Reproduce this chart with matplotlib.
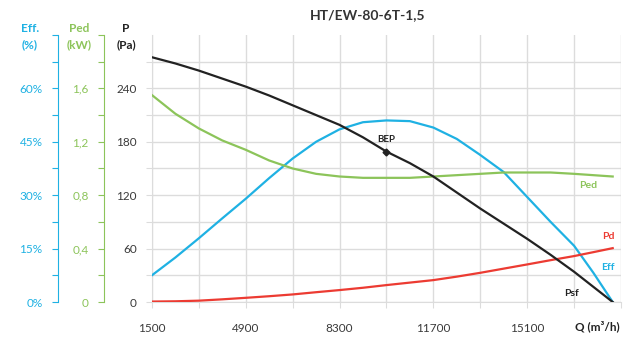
import numpy as np
import matplotlib
matplotlib.use("Agg")
import matplotlib.pyplot as plt

plt.rcParams['font.family'] = ['Lato', 'DejaVu Sans']

# flow rate (m3/h)
q = [1500, 2350, 3200, 4050, 4900, 5750, 6600, 7450, 8300, 9150, 10000,
     10850, 11700, 12550, 13400, 14250, 15100, 15950, 16800, 17500, 18200]

# static pressure Psf (Pa)
psf = [275, 268, 260, 251, 242, 232, 221, 210, 199, 185, 169,
       156, 141, 123, 105, 88, 71, 53, 34, 17, 0]
# dynamic pressure Pd (Pa)
pd_ = [0.5, 0.8, 1.5, 3, 4.7, 6.5, 8.5, 11, 13.4, 16, 19,
       21.8, 24.6, 28.5, 32.8, 37.5, 42.2, 47, 51.6, 56, 60.5]
# efficiency (%)
eff = [7.5, 12.5, 17.9, 23.5, 29.0, 34.8, 40.3, 45.0, 48.5, 50.5, 51.0,
       50.8, 49.0, 45.8, 41.3, 36.5, 29.5, 22.5, 15.8, 8.2, 0]
# absorbed power Ped (kW)
ped = [1.55, 1.41, 1.30, 1.21, 1.14, 1.06, 1.00, 0.96, 0.94, 0.93, 0.93,
       0.93, 0.94, 0.95, 0.96, 0.97, 0.97, 0.97, 0.96, 0.95, 0.94]

bep_q, bep_p = 10000, 169

x_ticks = np.arange(1500, 18501, 1700)
x_labels = ['1500', '', '4900', '', '8300', '', '11700', '', '15100', '', '']
p_ticks = np.arange(0, 271, 30)
p_labels = ['0', '', '60', '', '120', '', '180', '', '240', '']
eff_ticks = np.arange(0, 75.1, 7.5)
eff_labels = ['0%', '', '15%', '', '30%', '', '45%', '', '60%', '', '']
ped_ticks = np.arange(0, 2.01, 0.2)
ped_labels = ['0', '', '0,4', '', '0,8', '', '1,2', '', '1,6', '', '']

c_eff = '#1fb1e3'
c_ped = '#8cc45a'
c_pd = '#ec3b32'
c_psf = '#222222'
c_grid = '#dcdcdc'
c_txt = '#3a3a3a'

fig = plt.figure(figsize=(6.33, 3.38), dpi=100)
ax = fig.add_axes([0.240, 0.1065, 0.741, 0.79])

ax.set_xlim(1500, 18500)
ax.set_ylim(0, 300)
ax.set_xticks(x_ticks)
ax.set_xticklabels(x_labels)
ax.set_yticks(p_ticks)
ax.set_yticklabels(p_labels)
ax.grid(True, color=c_grid, lw=1)
ax.set_axisbelow(True)
for s in ['top', 'right']:
    ax.spines[s].set_visible(False)
for s in ['left', 'bottom']:
    ax.spines[s].set_color(c_grid)
ax.tick_params(axis='both', colors=c_grid, labelcolor=c_txt, labelsize=8.5, length=4)
ax.tick_params(axis='x', pad=11)
ax.tick_params(axis='y', pad=7)

# efficiency axis
ax_eff = ax.twinx()
ax_eff.set_ylim(0, 75)
ax_eff.spines['left'].set_position(('axes', -0.2004))
ax_eff.spines['left'].set_color(c_eff)
for s in ['top', 'right', 'bottom']:
    ax_eff.spines[s].set_visible(False)
ax_eff.yaxis.set_ticks_position('left')
ax_eff.yaxis.set_label_position('left')
ax_eff.set_yticks(eff_ticks)
ax_eff.set_yticklabels(eff_labels)
ax_eff.tick_params(axis='y', colors=c_eff, labelsize=8.5, length=4, pad=7)

# power axis
ax_ped = ax.twinx()
ax_ped.set_ylim(0, 2.0)
ax_ped.spines['left'].set_position(('axes', -0.1023))
ax_ped.spines['left'].set_color(c_ped)
for s in ['top', 'right', 'bottom']:
    ax_ped.spines[s].set_visible(False)
ax_ped.yaxis.set_ticks_position('left')
ax_ped.yaxis.set_label_position('left')
ax_ped.set_yticks(ped_ticks)
ax_ped.set_yticklabels(ped_labels)
ax_ped.tick_params(axis='y', colors=c_ped, labelsize=8.5, length=4, pad=7)

ax_ped.plot(q, ped, color=c_ped, lw=1.6)
ax_eff.plot(q, eff, color=c_eff, lw=1.6)
ax_eff.patch.set_visible(False)
ax_ped.patch.set_visible(False)

# put pressure curves on top
ax_top = ax.twinx()
ax_top.set_ylim(0, 300)
ax_top.axis('off')
ax_top.plot(q, pd_, color=c_pd, lw=1.6)
ax_top.plot(q, psf, color=c_psf, lw=1.6)
ax_top.plot([bep_q], [bep_p], marker='D', ms=3.5, color=c_psf)

ax_top.text(bep_q, bep_p + 14, 'BEP', ha='center', va='center', fontsize=7, fontweight='bold', color=c_psf)
ax_top.text(17300, 131, 'Ped', ha='center', va='center', fontsize=7.5, fontweight='bold', color=c_ped)
ax_top.text(18030, 74, 'Pd', ha='center', va='center', fontsize=7.5, fontweight='bold', color=c_pd)
ax_top.text(18030, 39, 'Eff', ha='center', va='center', fontsize=7.5, fontweight='bold', color=c_eff)
ax_top.text(16720, 10, 'Psf', ha='center', va='center', fontsize=7.5, fontweight='bold', color=c_psf)

# axis headers
W, H = 633, 338
def ftext(x, y, s, color, **kw):
    fig.text(x / W, 1 - y / H, s, ha='center', va='center', color=color,
             fontsize=8.5, fontweight='bold', **kw)

ftext(30, 28, 'Eff.', c_eff)
ftext(30, 45, '(%)', c_eff)
ftext(79, 28, 'Ped', c_ped)
ftext(79, 45, '(kW)', c_ped)
ftext(126, 28, 'P', c_psf)
ftext(126, 45, '(Pa)', c_psf)
ftext(597, 326, 'Q (m³/h)', c_psf)
fig.text(368 / W, 1 - 15 / H, 'HT/EW-80-6T-1,5', ha='center', va='center',
         fontsize=10, fontweight='bold', color='#333333')

fig.savefig('out.png', dpi=100, facecolor='white')
